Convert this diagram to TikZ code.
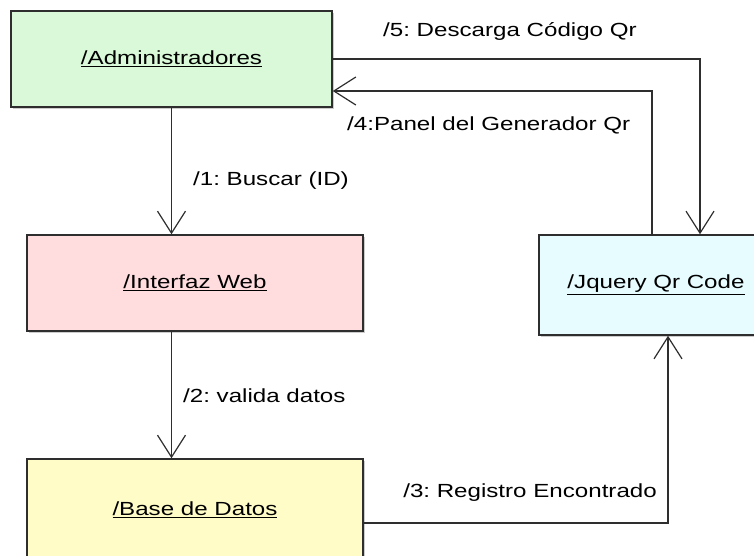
\documentclass[tikz,border=0pt]{standalone}
\usepackage{fontspec}
\setmainfont[FakeStretch=1.27]{Liberation Sans}
\usepackage{tikz}
\usetikzlibrary{arrows.meta,shadows}
\definecolor{admgreen}{HTML}{D9F9D8}
\definecolor{webpink}{HTML}{FFDDDE}
\definecolor{qrcyan}{HTML}{E6FCFF}
\definecolor{bdyellow}{HTML}{FFFCC8}
\definecolor{edgegray}{HTML}{2E2E2E}
\newcommand{\diagfont}{\fontsize{19}{22}\selectfont}
\frenchspacing
\tikzset{
  objbox/.style={draw=edgegray,line width=1.5pt,inner sep=0pt,font=\diagfont,
    drop shadow={shadow xshift=2pt,shadow yshift=-2pt,fill=black!40,opacity=.5}},
  msg/.style={-{Straight Barb[length=22pt,width=28pt,line width=1.2pt]},line width=1.2pt,draw=edgegray},
  msglabel/.style={font=\diagfont,inner sep=0pt},
}

\begin{document}
\begin{tikzpicture}[x=1pt,y=-1pt]
  \useasboundingbox (0,0) rectangle (754,555);
  % objects
  \node[objbox,fill=admgreen,minimum width=321pt,minimum height=96pt] (adm) at (171.5,59) {\underline{/Administradores}};
  \node[objbox,fill=webpink,minimum width=336pt,minimum height=96pt] (web) at (195,283) {\underline{/Interfaz Web}};
  \node[objbox,fill=qrcyan,minimum width=234pt,minimum height=100pt] (qr) at (656,285) {\underline{/Jquery Qr Code}};
  \node[objbox,fill=bdyellow,minimum width=336pt,minimum height=102pt] (bd) at (195,510) {\underline{/Base de Datos}};
  % messages
  \draw[msg] (adm.south) -- (adm.south |- web.north);
  \draw[msg] (adm.south |- web.south) -- (adm.south |- bd.north);
  \draw[msg] ([yshift=-13pt]bd.east) -| ([xshift=12pt]qr.south);
  \draw[msg] ([xshift=-4pt]qr.north) |- ([yshift=-32pt]adm.east);
  \draw[msg] (adm.east) -| ([xshift=44pt]qr.north);
  % labels
  \node[msglabel,anchor=west] (l1) at (193,181) {/1: Buscar (ID)};
  \node[msglabel,anchor=west] (l2) at (183,396) {/2: valida datos};
  \node[msglabel,anchor=east] (l3) at (657,493) {/3: Registro Encontrado};
  \node[msglabel,anchor=west] (l4) at (347,125) {/4:Panel del Generador Qr};
  \node[msglabel,anchor=west] (l5) at (383,31) {/5: Descarga Código Qr};
\end{tikzpicture}
\end{document}
